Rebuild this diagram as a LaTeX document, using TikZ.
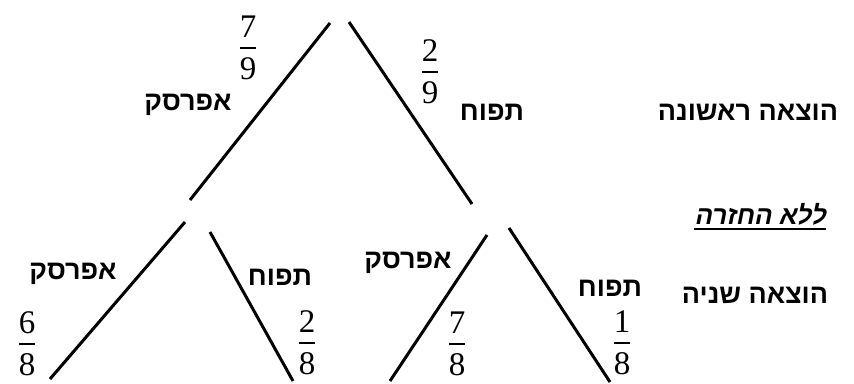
\documentclass[tikz,border=0pt]{standalone}
\usepackage{fontspec}
\setmainfont{Liberation Serif}
\TeXXeTstate=1
\newfontfamily\heb[Script=Hebrew]{Liberation Sans}
\newfontfamily\hebsl[Script=Hebrew,FakeSlant=0.2]{Liberation Sans}
\begin{document}
\begin{tikzpicture}[x=1pt,y=-1pt,
  branch/.style={line width=3pt},
  lbl/.style={font=\heb\bfseries\fontsize{27}{32}\selectfont, inner sep=0pt},
  num/.style={font=\fontsize{33}{40}\selectfont, inner sep=0pt, anchor=south},
  den/.style={font=\fontsize{33}{40}\selectfont, inner sep=0pt, anchor=north},
  fbar/.style={line width=2pt}]
\useasboundingbox (0,0) rectangle (854,383);
\fill[white] (0,0) rectangle (854,383);
% branch end points
\coordinate (a1) at (330,23);  \coordinate (a2) at (190,200);
\coordinate (b1) at (349,22);  \coordinate (b2) at (472,204);
\coordinate (c1) at (185,222); \coordinate (c2) at (50,379);
\coordinate (d1) at (210,232); \coordinate (d2) at (293,381);
\coordinate (e1) at (487,235); \coordinate (e2) at (390,381);
\coordinate (f1) at (509,228); \coordinate (f2) at (610,382);
\draw[branch] (a1) -- (a2);
\draw[branch] (b1) -- (b2);
\draw[branch] (c1) -- (c2);
\draw[branch] (d1) -- (d2);
\draw[branch] (e1) -- (e2);
\draw[branch] (f1) -- (f2);
% labels
\node[lbl] (l1) at (188,105) {\beginR אפרסק\endR};
\node[lbl] (r1) at (492,112) {\beginR תפוח\endR};
\node[lbl] (h1) at (748,112) {\beginR הוצאה ראשונה\endR};
\node[font=\hebsl\bfseries\fontsize{26}{30}\selectfont, inner sep=0pt] (nr) at (760,214) {\beginR ללא החזרה\endR};
\draw[line width=2pt] ([yshift=-4pt]nr.south west) -- ([yshift=-4pt]nr.south east);
\node[lbl] (h2) at (755,295) {\beginR הוצאה שניה\endR};
\node[lbl] (ll) at (73,274) {\beginR אפרסק\endR};
\node[lbl] (lr) at (280,277) {\beginR תפוח\endR};
\node[lbl] (rl) at (408,263) {\beginR אפרסק\endR};
\node[lbl] (rr) at (610,288) {\beginR תפוח\endR};
% fractions
\foreach \nm/\x/\y/\n/\d in {fa/248/48/7/9, fb/430/72/2/9, fc/27/344/6/8, fd/307/343/2/8, fe/457/344/7/8, ff/622/343/1/8}{
  \node[num] (\nm n) at (\x,\y-10) {\n};
  \node[den] (\nm d) at (\x,\y+9) {\d};
  \draw[fbar] (\x-8,\y) -- (\x+8,\y);
}
\end{tikzpicture}
\end{document}
